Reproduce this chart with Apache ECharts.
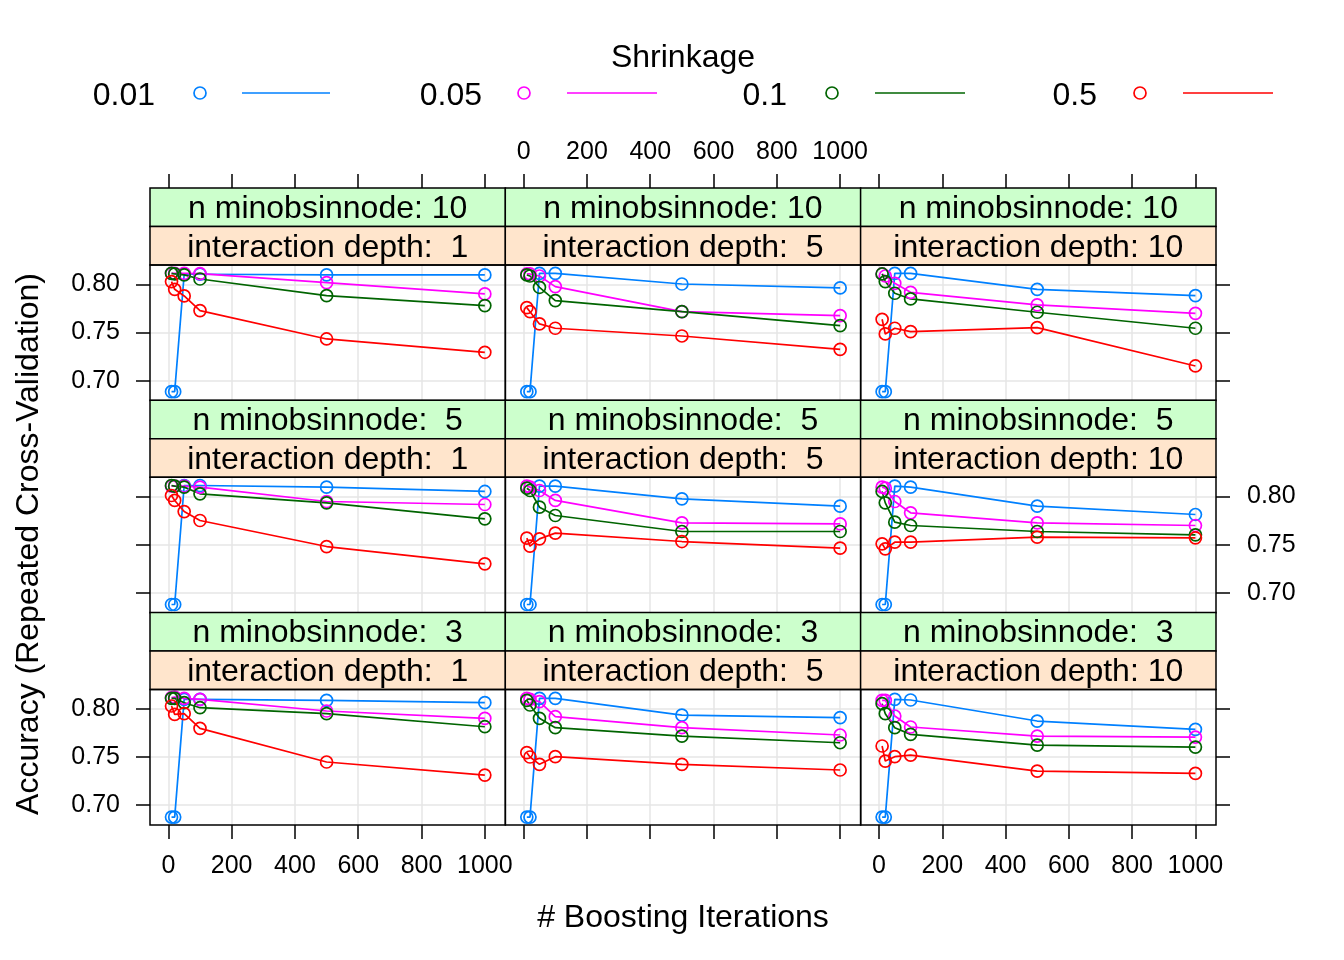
<!DOCTYPE html>
<html>
<head>
<meta charset="utf-8">
<script src="https://cdn.jsdelivr.net/npm/echarts@6.0.0/dist/echarts.min.js"></script>
<style>html,body{margin:0;padding:0;background:#fff}#chart{width:1344px;height:960px}</style>
</head>
<body>
<div id="chart"></div>
<script>
// ---- data ----
const nTrees = [10, 20, 50, 100, 500, 1000];
const shrinkage = ['0.01', '0.05', '0.1', '0.5'];
const depthLevels = [1, 5, 10];          // columns
const minobsLevels = [10, 5, 3];         // rows, top to bottom
const xTicks = [0, 200, 400, 600, 800, 1000];
const yTicks = [0.70, 0.75, 0.80];

// each: rows = shrinkage 0.01, 0.05, 0.1, 0.5 ; columns = nTrees
const acc_m10_d1 = [
  [0.6887, 0.6887, 0.8104, 0.8104, 0.8097, 0.8097],
  [0.8114, 0.8114, 0.8114, 0.8110, 0.8017, 0.7900],
  [0.8114, 0.8107, 0.8097, 0.8055, 0.7882, 0.7779],
  [0.8028, 0.7948, 0.7879, 0.7727, 0.7433, 0.7295]];
const acc_m10_d5 = [
  [0.6887, 0.6887, 0.8114, 0.8114, 0.8003, 0.7962],
  [0.8107, 0.8107, 0.8086, 0.7976, 0.7716, 0.7675],
  [0.8097, 0.8086, 0.7969, 0.7831, 0.7716, 0.7571],
  [0.7758, 0.7716, 0.7589, 0.7544, 0.7464, 0.7326]];
const acc_m10_d10 = [
  [0.6887, 0.6887, 0.8114, 0.8114, 0.7948, 0.7882],
  [0.8107, 0.8086, 0.8010, 0.7917, 0.7786, 0.7699],
  [0.8107, 0.8028, 0.7907, 0.7848, 0.7710, 0.7544],
  [0.7637, 0.7485, 0.7544, 0.7509, 0.7550, 0.7153]];
const acc_m5_d1 = [
  [0.6880, 0.6880, 0.8114, 0.8114, 0.8097, 0.8052],
  [0.8107, 0.8107, 0.8107, 0.8097, 0.7948, 0.7917],
  [0.8114, 0.8107, 0.8097, 0.8028, 0.7934, 0.7768],
  [0.8010, 0.7959, 0.7844, 0.7751, 0.7481, 0.7302]];
const acc_m5_d5 = [
  [0.6880, 0.6880, 0.8107, 0.8107, 0.7976, 0.7900],
  [0.8107, 0.8097, 0.8062, 0.7959, 0.7727, 0.7716],
  [0.8086, 0.8062, 0.7889, 0.7803, 0.7637, 0.7637],
  [0.7568, 0.7485, 0.7561, 0.7620, 0.7533, 0.7464]];
const acc_m5_d10 = [
  [0.6880, 0.6880, 0.8107, 0.8097, 0.7900, 0.7813],
  [0.8097, 0.8086, 0.7948, 0.7831, 0.7727, 0.7699],
  [0.8052, 0.7934, 0.7734, 0.7699, 0.7637, 0.7602],
  [0.7509, 0.7457, 0.7526, 0.7526, 0.7578, 0.7571]];
const acc_m3_d1 = [
  [0.6876, 0.6876, 0.8097, 0.8097, 0.8086, 0.8062],
  [0.8114, 0.8121, 0.8107, 0.8097, 0.7976, 0.7900],
  [0.8107, 0.8107, 0.8062, 0.8010, 0.7948, 0.7813],
  [0.8028, 0.7941, 0.7948, 0.7796, 0.7447, 0.7312]];
const acc_m3_d5 = [
  [0.6876, 0.6876, 0.8107, 0.8107, 0.7934, 0.7907],
  [0.8107, 0.8097, 0.8073, 0.7917, 0.7803, 0.7727],
  [0.8086, 0.8038, 0.7900, 0.7803, 0.7716, 0.7647],
  [0.7544, 0.7499, 0.7423, 0.7502, 0.7423, 0.7364]];
const acc_m3_d10 = [
  [0.6876, 0.6876, 0.8097, 0.8090, 0.7872, 0.7786],
  [0.8086, 0.8086, 0.7924, 0.7810, 0.7716, 0.7706],
  [0.8052, 0.7948, 0.7803, 0.7734, 0.7623, 0.7602],
  [0.7613, 0.7457, 0.7502, 0.7519, 0.7353, 0.7329]];

const panels = [
  [acc_m10_d1, acc_m10_d5, acc_m10_d10],
  [acc_m5_d1, acc_m5_d5, acc_m5_d10],
  [acc_m3_d1, acc_m3_d5, acc_m3_d10]];

// ---- layout & style ----
const FONT = 'Liberation Sans';
const colors = ['#0080ff', '#ff00ff', '#006400', '#ff0000'];
const colLeft = [150, 505.3, 860.6], colW = 355.4;
const rowTop = [265, 477.2, 689.4], rowH = 135.5, stripH = 38.5;
const xMin = -58, xMax = 1065, yMin = 0.6795, yMax = 0.8200;
const TXT = 32, TICKTXT = 25;

const grids = [], xAxes = [], yAxes = [], series = [], graphics = [];
const pad = v => (String(v).length < 2 ? ' ' + v : String(v));

for (let r = 0; r < 3; r++) {
  for (let c = 0; c < 3; c++) {
    const i = r * 3 + c;
    const L = colLeft[c], T = rowTop[r];
    grids.push({ left: L, top: T, width: colW, height: rowH, show: false });
    xAxes.push({
      gridIndex: i, type: 'value', min: xMin, max: xMax, splitNumber: 5,
      position: r === 0 ? 'top' : 'bottom',
      offset: r === 0 ? 2 * stripH : 0,
      axisLine: { show: false, onZero: false },
      axisTick: { show: r !== 1, customValues: xTicks, length: 14, lineStyle: { color: '#000', width: 1.5 } },
      axisLabel: { show: (r === 0 && c === 1) || (r === 2 && c !== 1), customValues: xTicks,
        formatter: v => String(Math.round(v)),
        margin: r === 0 ? 23 : 29, fontSize: TICKTXT, color: '#000', fontFamily: FONT },
      splitLine: { show: true, lineStyle: { color: '#e6e6e6', width: 1.5 } }
    });
    yAxes.push({
      gridIndex: i, type: 'value', min: yMin, max: yMax, splitNumber: 3,
      position: c === 2 ? 'right' : 'left',
      axisLine: { show: false, onZero: false },
      axisTick: { show: c !== 1, customValues: yTicks, length: 14, lineStyle: { color: '#000', width: 1.5 } },
      axisLabel: { show: (c === 0 && r !== 1) || (c === 2 && r === 1), customValues: yTicks,
        formatter: v => Number(v).toFixed(2), margin: c === 2 ? 31 : 30, fontSize: TICKTXT, color: '#000', fontFamily: FONT },
      splitLine: { show: true, lineStyle: { color: '#e6e6e6', width: 1.5 } }
    });
    const acc = panels[r][c];
    shrinkage.forEach((s, k) => {
      series.push({
        type: 'line', name: s, xAxisIndex: i, yAxisIndex: i,
        data: nTrees.map((n, j) => [n, acc[k][j]]),
        symbol: 'circle', symbolSize: 12, clip: false,
        color: colors[k],
        lineStyle: { width: 1.7, color: colors[k] },
        itemStyle: { borderWidth: 1.7, color: 'rgba(0,0,0,0)', borderColor: colors[k] },
        emphasis: { disabled: true }, animation: false
      });
    });
    // strips
    const sTop = T - 2 * stripH;
    graphics.push({ type: 'rect', shape: { x: L, y: sTop, width: colW, height: stripH },
      style: { fill: '#ccffcc', stroke: '#000', lineWidth: 1.5 }, z: 10 });
    graphics.push({ type: 'rect', shape: { x: L, y: sTop + stripH, width: colW, height: stripH },
      style: { fill: '#ffe5cc', stroke: '#000', lineWidth: 1.5 }, z: 10 });
    graphics.push({ type: 'text', x: L + colW / 2, y: sTop + stripH / 2 + 2, z: 11,
      style: { text: 'n minobsinnode: ' + pad(minobsLevels[r]), fontSize: TXT, fontFamily: FONT,
        fill: '#000', textAlign: 'center', textVerticalAlign: 'middle' } });
    graphics.push({ type: 'text', x: L + colW / 2, y: sTop + 1.5 * stripH + 2, z: 11,
      style: { text: 'interaction depth: ' + pad(depthLevels[c]), fontSize: TXT, fontFamily: FONT,
        fill: '#000', textAlign: 'center', textVerticalAlign: 'middle' } });
    // panel border
    graphics.push({ type: 'rect', shape: { x: L, y: T, width: colW, height: rowH },
      style: { fill: null, stroke: '#000', lineWidth: 1.5 }, z: 10 });
  }
}

// legend
graphics.push({ type: 'text', x: 683, y: 58, style: { text: 'Shrinkage', fontSize: TXT, fontFamily: FONT,
  fill: '#000', textAlign: 'center', textVerticalAlign: 'middle' } });
const legText = [155, 482, 787, 1097], legPt = [200, 524, 832, 1140], legLine = [[242, 330], [567, 657], [875, 965], [1183, 1273]];
shrinkage.forEach((s, k) => {
  graphics.push({ type: 'text', x: legText[k], y: 96, style: { text: s, fontSize: TXT, fontFamily: FONT,
    fill: '#000', textAlign: 'right', textVerticalAlign: 'middle' } });
  graphics.push({ type: 'circle', shape: { cx: legPt[k], cy: 93, r: 6 },
    style: { fill: null, stroke: colors[k], lineWidth: 1.7 } });
  graphics.push({ type: 'line', shape: { x1: legLine[k][0], y1: 93, x2: legLine[k][1], y2: 93 },
    style: { stroke: colors[k], lineWidth: 1.7 } });
});
// axis titles
graphics.push({ type: 'text', x: 683, y: 918, style: { text: '# Boosting Iterations', fontSize: TXT, fontFamily: FONT,
  fill: '#000', textAlign: 'center', textVerticalAlign: 'middle' } });
graphics.push({ type: 'text', x: 29, y: 544, rotation: Math.PI / 2, style: { text: 'Accuracy (Repeated Cross-Validation)',
  fontSize: TXT, fontFamily: FONT, fill: '#000', textAlign: 'center', textVerticalAlign: 'middle' } });

const chart = echarts.init(document.getElementById('chart'), null, { renderer: 'canvas' });
chart.setOption({
  backgroundColor: '#fff', animation: false,
  grid: grids, xAxis: xAxes, yAxis: yAxes, series: series,
  graphic: { elements: graphics }
});
</script>
</body>
</html>
